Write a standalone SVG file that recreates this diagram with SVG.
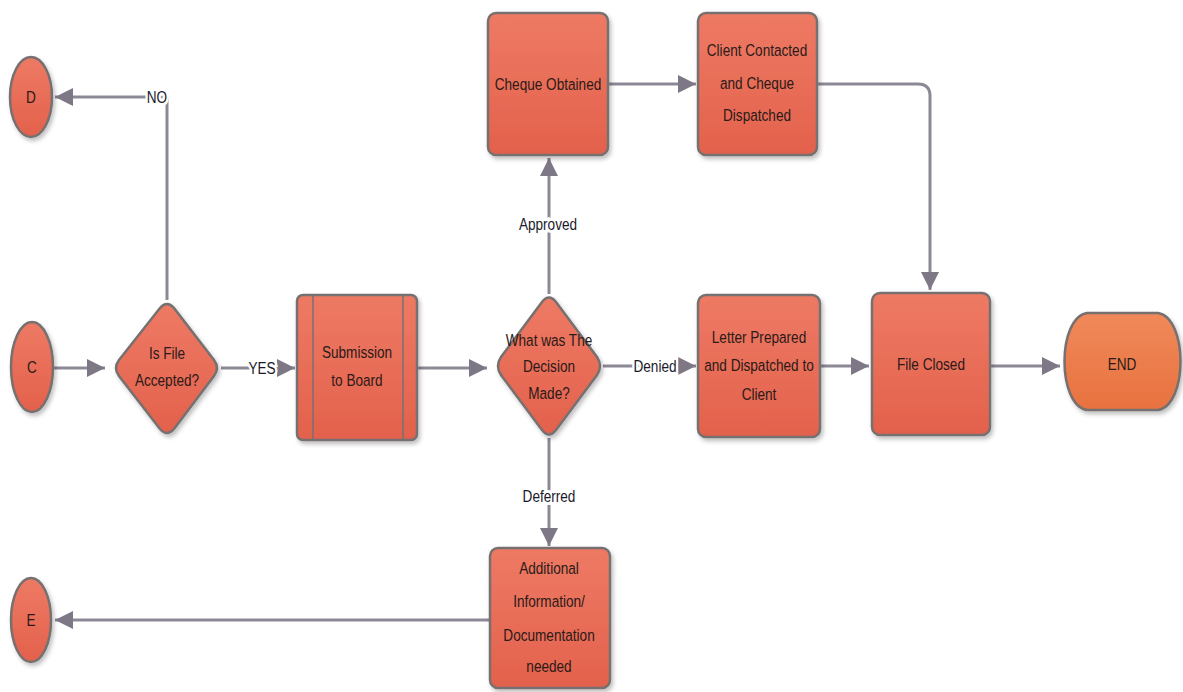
<svg xmlns="http://www.w3.org/2000/svg" width="1183" height="692" viewBox="0 0 1183 692">
<defs>
<linearGradient id="g" x1="0" y1="0" x2="0" y2="1">
<stop offset="0" stop-color="#ee7a64"/><stop offset="1" stop-color="#e3614c"/>
</linearGradient>
<linearGradient id="go" x1="0" y1="0" x2="0" y2="1">
<stop offset="0" stop-color="#f0895a"/><stop offset="1" stop-color="#e8723f"/>
</linearGradient>
<filter id="sh" x="-10%" y="-10%" width="130%" height="130%">
<feDropShadow dx="2" dy="3" stdDeviation="2" flood-color="#000" flood-opacity="0.25"/>
</filter>
<marker id="ah" viewBox="0 0 10 10" refX="10" refY="5" markerWidth="6" markerHeight="7" markerUnits="strokeWidth" orient="auto">
<path d="M0,0 L10,5 L0,10 Z" fill="#7e7886"/>
</marker>
</defs>
<style>
.n{fill:url(#g);stroke:#77706f;stroke-width:2.5;filter:url(#sh)}
.o{fill:url(#go);stroke:#77706f;stroke-width:2.5;filter:url(#sh)}
.t{font-family:"Liberation Sans",Arial,sans-serif;font-size:17px;fill:#2a1a18;text-anchor:middle;dominant-baseline:central}
.c{fill:none;stroke:#8d8895;stroke-width:3;marker-end:url(#ah)}
.l{font-family:"Liberation Sans",Arial,sans-serif;font-size:17px;fill:#1a1a2a;text-anchor:middle;dominant-baseline:central;stroke:#fff;stroke-width:6;paint-order:stroke}
</style>
<rect width="1183" height="692" fill="#fff"/>
<g id="connectors">
<path class="c" d="M167,300 V97 H55"/>
<path class="c" d="M53,368 H105"/>
<path class="c" d="M221,368 H295"/>
<path class="c" d="M418,368 H487"/>
<path class="c" d="M549,294 V158"/>
<path class="c" d="M608,84 H696"/>
<path class="c" d="M817,84 H918 Q930,84 930,96 V290"/>
<path class="c" d="M603,366 H696"/>
<path class="c" d="M820,366 H869"/>
<path class="c" d="M990,366 H1060"/>
<path class="c" d="M549,438 V546"/>
<path class="c" d="M490,620 H55"/>
<text class="l" transform="translate(157,97) scale(0.8,1)">NO</text>
<text class="l" transform="translate(262,368) scale(0.8,1)">YES</text>
<text class="l" transform="translate(548,224) scale(0.8,1)">Approved</text>
<text class="l" transform="translate(655,366) scale(0.8,1)">Denied</text>
<text class="l" transform="translate(549,496) scale(0.8,1)">Deferred</text>
</g>
<g id="D"><ellipse class="n" cx="31" cy="97" rx="21" ry="40"/><text class="t" transform="translate(31,97) scale(0.8,1)">D</text></g>
<g id="C"><ellipse class="n" cx="32" cy="367" rx="21" ry="45"/><text class="t" transform="translate(32,367) scale(0.8,1)">C</text></g>
<g id="E"><ellipse class="n" cx="31" cy="620" rx="20" ry="42"/><text class="t" transform="translate(31,620) scale(0.8,1)">E</text></g>
<g id="fileAccepted"><path class="n" d="M160,308 Q167,300 174,308 L214,360 Q220,368 214,376 L174,429 Q167,437 160,429 L119,376 Q113,368 119,360 Z"/><text class="t" transform="translate(167,353) scale(0.8,1)">Is File</text><text class="t" transform="translate(167,380) scale(0.8,1)">Accepted?</text></g>
<g id="submission"><rect class="n" x="297" y="295" width="120" height="145" rx="6"/><line x1="313" y1="296" x2="313" y2="439" stroke="#77706f" stroke-width="1.5"/><line x1="403" y1="296" x2="403" y2="439" stroke="#77706f" stroke-width="1.5"/><text class="t" transform="translate(357,352) scale(0.8,1)">Submission</text><text class="t" transform="translate(357,380) scale(0.8,1)">to Board</text></g>
<g id="decision"><path class="n" d="M542,302 Q549,293 556,302 L597,357 Q603,366 597,375 L556,430 Q549,439 542,430 L501,375 Q495,366 501,357 Z"/><text class="t" transform="translate(549,340) scale(0.8,1)">What was The</text><text class="t" transform="translate(549,366) scale(0.8,1)">Decision</text><text class="t" transform="translate(549,393) scale(0.8,1)">Made?</text></g>
<g id="cheque"><rect class="n" x="488" y="13" width="120" height="142" rx="8"/><text class="t" transform="translate(548,84) scale(0.8,1)">Cheque Obtained</text></g>
<g id="client"><rect class="n" x="698" y="13" width="119" height="142" rx="8"/><text class="t" transform="translate(757,50) scale(0.8,1)">Client Contacted</text><text class="t" transform="translate(757,83) scale(0.8,1)">and Cheque</text><text class="t" transform="translate(757,115) scale(0.8,1)">Dispatched</text></g>
<g id="letter"><rect class="n" x="698" y="295" width="122" height="142" rx="8"/><text class="t" transform="translate(759,337) scale(0.8,1)">Letter Prepared</text><text class="t" transform="translate(759,365) scale(0.8,1)">and Dispatched to</text><text class="t" transform="translate(759,394) scale(0.8,1)">Client</text></g>
<g id="fileClosed"><rect class="n" x="872" y="293" width="118" height="142" rx="8"/><text class="t" transform="translate(931,364) scale(0.8,1)">File Closed</text></g>
<g id="end"><path class="o" d="M1087,313 H1158 C1188,318 1188,405 1158,410 H1087 C1057,405 1057,318 1087,313 Z"/><text class="t" transform="translate(1122,364) scale(0.8,1)">END</text></g>
<g id="additional"><rect class="n" x="490" y="548" width="120" height="140" rx="8"/><text class="t" transform="translate(549,568) scale(0.8,1)">Additional</text><text class="t" transform="translate(549,601) scale(0.8,1)">Information/</text><text class="t" transform="translate(549,635) scale(0.8,1)">Documentation</text><text class="t" transform="translate(549,666) scale(0.8,1)">needed</text></g>
</svg>
